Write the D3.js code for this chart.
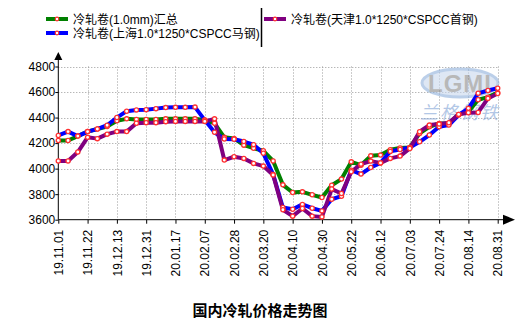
<!DOCTYPE html>
<html>
<head>
<meta charset="utf-8">
<script src="https://cdn.jsdelivr.net/npm/d3@7"></script>
<style>
  html, body { margin: 0; padding: 0; background: #fff; }
  svg { display: block; }
  text { font-family: Arial, "Liberation Sans", "Noto Sans CJK SC", sans-serif; fill: #000; }
</style>
</head>
<body>
<svg id="chart" width="523" height="326"></svg>
<script>
// Weekly sample dates (46 points); every third one is labelled on the axis
const dates = [
  "19.11.01","19.11.08","19.11.15","19.11.22","19.11.29","19.12.06","19.12.13","19.12.20",
  "19.12.27","19.12.31","20.01.03","20.01.10","20.01.17","20.01.23","20.01.31","20.02.07",
  "20.02.14","20.02.21","20.02.28","20.03.06","20.03.13","20.03.20","20.03.27","20.04.03",
  "20.04.10","20.04.17","20.04.24","20.04.30","20.05.08","20.05.15","20.05.22","20.05.29",
  "20.06.05","20.06.12","20.06.19","20.06.24","20.07.03","20.07.10","20.07.17","20.07.24",
  "20.07.31","20.08.07","20.08.14","20.08.21","20.08.28","20.08.31"
];
const tickLabels = dates.filter((d, i) => i % 3 === 0);
const yTicks = [3600, 3800, 4000, 4200, 4400, 4600, 4800];

// 冷轧卷(1.0mm)汇总
const summary = [
  4220,4220,4255,4290,4310,4330,4375,4390,4385,4385,4385,4390,4390,4390,4390,4380,
  4355,4245,4237,4184,4160,4140,4060,3873,3813,3818,3795,3774,3870,3918,4053,4027,
  4100,4106,4148,4162,4166,4276,4328,4354,4354,4425,4446,4540,4560,4595
];
// 冷轧卷(上海1.0*1250*CSPCC马钢)
const shanghai = [
  4260,4290,4255,4290,4310,4340,4400,4450,4460,4462,4470,4478,4480,4480,4482,4380,
  4285,4232,4230,4212,4188,4120,3955,3695,3682,3720,3690,3669,3760,3784,3988,3957,
  4009,4045,4135,4150,4166,4210,4263,4328,4341,4420,4472,4590,4612,4630
];
// 冷轧卷(天津1.0*1250*CSPCC首钢)
const tianjin = [
  4060,4060,4130,4245,4235,4270,4290,4290,4355,4360,4360,4368,4370,4370,4370,4370,
  4390,4067,4093,4080,4041,4020,3950,3678,3628,3688,3628,3622,3840,3805,3975,4035,
  4059,4045,4080,4098,4158,4289,4341,4349,4359,4425,4438,4440,4550,4588
];

const seriesNames = [
  "冷轧卷(1.0mm)汇总",
  "冷轧卷(上海1.0*1250*CSPCC马钢)",
  "冷轧卷(天津1.0*1250*CSPCC首钢)"
];
const seriesColors = ["#008000", "#0000ff", "#800080"];
const seriesValues = [summary, shanghai, tianjin];
const title = "国内冷轧价格走势图";

const svg = d3.select("#chart");
const plotLeft = 58.3, plotRight = 497.7, plotTop = 66.5, plotBottom = 219.7;

const x = d3.scalePoint().domain(dates).range([plotLeft, plotRight]);
const y = d3.scaleLinear().domain([3600, 4800]).range([plotBottom, plotTop]);

// dotted grid
const grid = svg.append("g").attr("stroke", "#999").attr("stroke-dasharray", "1,2").attr("stroke-width", 1);
grid.selectAll("line.h").data(yTicks.slice(1)).join("line")
  .attr("x1", plotLeft).attr("x2", plotRight)
  .attr("y1", d => Math.round(y(d)) + 0.5).attr("y2", d => Math.round(y(d)) + 0.5);
grid.selectAll("line.v").data(tickLabels.slice(1)).join("line")
  .attr("x1", d => Math.round(x(d)) + 0.5).attr("x2", d => Math.round(x(d)) + 0.5)
  .attr("y1", plotTop).attr("y2", plotBottom);

// watermark logo
const logo = svg.append("g").attr("opacity", 0.6);
logo.append("ellipse").attr("cx", 460).attr("cy", 83).attr("rx", 38).attr("ry", 14)
  .attr("fill", "#c9d8ee").attr("stroke", "#8fb0dc").attr("stroke-width", 3);
logo.append("text").attr("x", 460).attr("y", 92).attr("text-anchor", "middle")
  .style("font-size", "24px").style("font-weight", "bold").style("fill", "#8a8a8a")
  .style("letter-spacing", "1px").text("LGMI");
logo.append("text").attr("x", 460).attr("y", 119).attr("text-anchor", "middle")
  .style("font-size", "18px").style("font-style", "italic").style("fill", "#7fa3d6")
  .style("font-family", "'Noto Sans CJK SC', sans-serif").style("letter-spacing", "2px")
  .text("兰格钢铁");

// axes
const yAxis = d3.axisLeft(y).tickValues(yTicks).tickSize(3).tickFormat(d3.format("d"));
const gy = svg.append("g").attr("transform", `translate(${plotLeft},0)`).call(yAxis);
gy.select(".domain").remove();
gy.selectAll("text").style("font-size", "12px").attr("x", -3);

const xAxis = d3.axisBottom(x).tickValues(tickLabels).tickSize(4);
const gx = svg.append("g").attr("transform", `translate(0,${plotBottom})`).call(xAxis);
gx.select(".domain").remove();
gx.selectAll("text").style("font-size", "12px")
  .attr("transform", "rotate(-90)").attr("text-anchor", "end")
  .attr("x", -10).attr("y", 0).attr("dy", "0.35em");

// axis lines with arrows
svg.append("line").attr("x1", plotLeft).attr("x2", plotLeft).attr("y1", 58).attr("y2", plotBottom).attr("stroke", "#000");
svg.append("line").attr("x1", plotLeft).attr("x2", 505).attr("y1", plotBottom).attr("y2", plotBottom).attr("stroke", "#000");
svg.append("path").attr("d", `M${plotLeft},52 L${plotLeft - 4},60 L${plotLeft + 4},60 Z`).attr("fill", "#000");
svg.append("path").attr("d", `M515,${plotBottom} L503,${plotBottom - 5} L503,${plotBottom + 5} Z`).attr("fill", "#000");

// series lines and markers
const line = d3.line().x((d, i) => x(dates[i])).y(d => y(d));
seriesValues.forEach((vals, k) => {
  svg.append("path").datum(vals).attr("d", line)
    .attr("fill", "none").attr("stroke", seriesColors[k]).attr("stroke-width", 4)
    .attr("stroke-linejoin", "round");
});
seriesValues.forEach((vals) => {
  svg.append("g").selectAll("circle").data(vals).join("circle")
    .attr("cx", (d, i) => x(dates[i])).attr("cy", d => y(d)).attr("r", 2.1)
    .attr("fill", "#fff").attr("stroke", "#ff3030").attr("stroke-width", 1.3);
});

// legend
const legendPos = [[46, 19], [46, 33], [264, 19]];
seriesNames.forEach((name, k) => {
  const [lx, ly] = legendPos[k];
  const g = svg.append("g");
  g.append("line").attr("x1", lx).attr("x2", lx + 22).attr("y1", ly).attr("y2", ly)
    .attr("stroke", seriesColors[k]).attr("stroke-width", 4);
  g.append("circle").attr("cx", lx + 11).attr("cy", ly).attr("r", 1.8)
    .attr("fill", "#fff").attr("stroke", "#ff3030").attr("stroke-width", 1.2);
  g.append("text").attr("x", lx + 27).attr("y", ly + 4.5).style("font-size", "12px").text(name);
});
svg.append("line").attr("x1", 261.5).attr("x2", 261.5).attr("y1", 8).attr("y2", 47)
  .attr("stroke", "#000").attr("stroke-width", 1.5);

// title
svg.append("text").attr("x", 260).attr("y", 316).attr("text-anchor", "middle")
  .style("font-size", "15px").style("font-weight", "bold")
  .style("font-family", "'Noto Sans CJK SC', sans-serif").text(title);
</script>
</body>
</html>
